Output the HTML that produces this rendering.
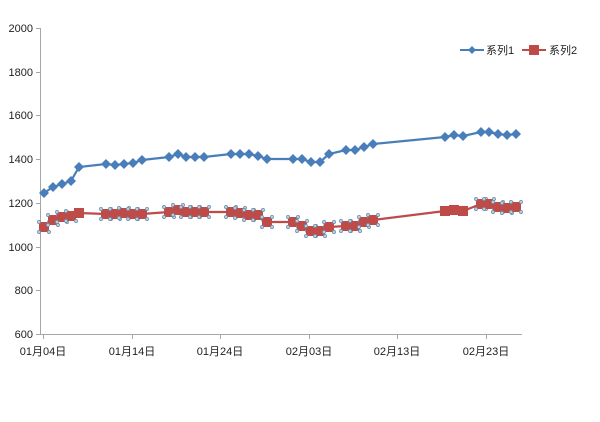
<!DOCTYPE html>
<html><head><meta charset="utf-8"><style>
html,body{margin:0;padding:0;background:#fff;}
svg{display:block;}
text{font-family:"Liberation Sans","Noto Sans CJK SC",sans-serif;font-size:11px;fill:#222;}
</style></head><body>
<svg id="s" width="600" height="422" viewBox="0 0 600 422" xmlns="http://www.w3.org/2000/svg">
<rect width="600" height="422" fill="#fff"/>
<g stroke="#a6a6a6" stroke-width="1">
<line x1="40.5" y1="28" x2="40.5" y2="334"/>
<line x1="40" y1="334.5" x2="522" y2="334.5"/>
<line x1="36" y1="28.5" x2="40" y2="28.5"/>
<line x1="36" y1="72.5" x2="40" y2="72.5"/>
<line x1="36" y1="115.5" x2="40" y2="115.5"/>
<line x1="36" y1="159.5" x2="40" y2="159.5"/>
<line x1="36" y1="203.5" x2="40" y2="203.5"/>
<line x1="36" y1="247.5" x2="40" y2="247.5"/>
<line x1="36" y1="290.5" x2="40" y2="290.5"/>
<line x1="36" y1="334.5" x2="40" y2="334.5"/>
<line x1="43.5" y1="334" x2="43.5" y2="339"/>
<line x1="132.5" y1="334" x2="132.5" y2="339"/>
<line x1="220.5" y1="334" x2="220.5" y2="339"/>
<line x1="309.5" y1="334" x2="309.5" y2="339"/>
<line x1="397.5" y1="334" x2="397.5" y2="339"/>
<line x1="486.5" y1="334" x2="486.5" y2="339"/>
</g>
<g text-anchor="end">
<text x="33" y="32">2000</text>
<text x="33" y="76">1800</text>
<text x="33" y="119">1600</text>
<text x="33" y="163">1400</text>
<text x="33" y="207">1200</text>
<text x="33" y="251">1000</text>
<text x="33" y="294">800</text>
<text x="33" y="338">600</text>
</g>
<g text-anchor="middle">
<text x="43" y="355">01月04日</text>
<text x="132" y="355">01月14日</text>
<text x="220" y="355">01月24日</text>
<text x="309" y="355">02月03日</text>
<text x="397" y="355">02月13日</text>
<text x="486" y="355">02月23日</text>
</g>
<g id="g"></g>
<line x1="460" y1="50" x2="484" y2="50" stroke="#4a7ebb" stroke-width="2"/>
<path d="M472 46 L476 50 L472 54 L468 50Z" fill="#4a7ebb"/>
<text x="486" y="54">系列1</text>
<line x1="522" y1="50" x2="546" y2="50" stroke="#be4b48" stroke-width="2"/>
<rect x="529" y="45" width="10" height="10" fill="#be4b48"/>
<text x="549" y="54">系列2</text>
</svg>
<script>
var xs=[44,53,62,71,79,106,115,124,133,142,169,178,186,195,204,231,240,249,258,267,293,302,311,320,329,346,355,364,373,445,454,463,481,489,498,507,516];
var a=[193,187,184,181,167,164,165,164,163,160,157,154,157,157,157,154,154,154,156,159,159,159,162,162,154,150,150,147,144,137,135,136,132,132,134,135,134];
var b=[227,220,217,216,213,214,214,213,214,214,212,210,212,212,212,212,213,215,215,222,222,226,231,231,227,226,226,222,220,211,210,211,204,204,207,208,207];
var h='';
function pts(y){return xs.map(function(x,i){return x+','+y[i]}).join(' ');}
h+='<polyline points="'+pts(a)+'" fill="none" stroke="#4a7ebb" stroke-width="2.2"/>';
h+='<polyline points="'+pts(b)+'" fill="none" stroke="#be4b48" stroke-width="2.2"/>';
xs.forEach(function(x,i){
 var y=a[i];h+='<path d="M'+x+' '+(y-5)+'L'+(x+5)+' '+y+'L'+x+' '+(y+5)+'L'+(x-5)+' '+y+'Z" fill="#4a7ebb"/>';
 y=b[i];h+='<rect x="'+(x-5)+'" y="'+(y-5)+'" width="10" height="10" fill="#be4b48"/>';
 if(i!=4&&i!=29&&i!=30&&i!=31){[[-5,-5],[5,-5],[-5,5],[5,5]].forEach(function(d){h+='<circle cx="'+(x+d[0])+'" cy="'+(y+d[1])+'" r="1.6" fill="#bcd" stroke="#6a8fa8" stroke-width="0.7"/>';});}
});
document.getElementById('g').innerHTML=h;
</script>
</body></html>
